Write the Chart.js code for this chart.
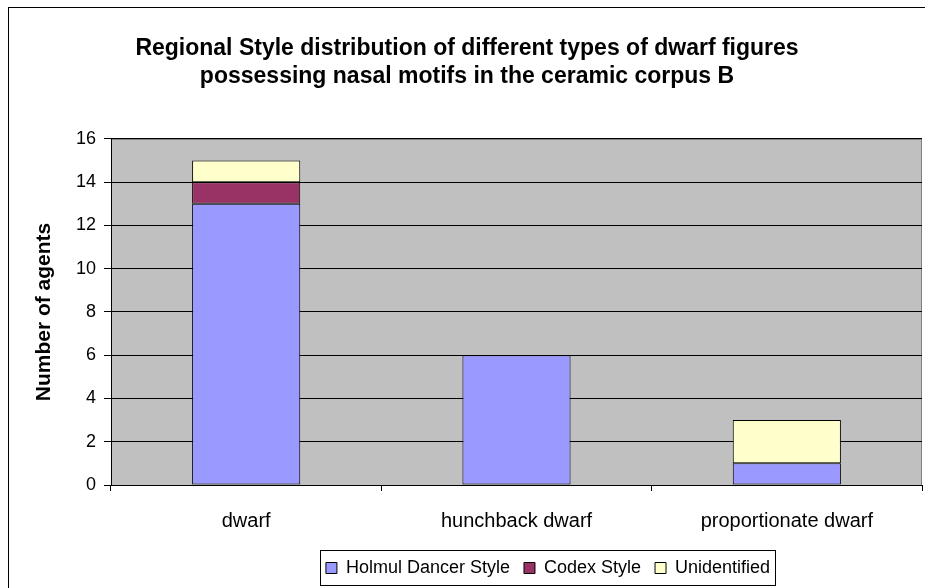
<!DOCTYPE html>
<html>
<head>
<meta charset="utf-8">
<script src="https://cdn.jsdelivr.net/npm/chart.js@4"></script>
<style>
  body { margin: 0; background: #fff; }
  #wrap { width: 925px; height: 588px; }
</style>
</head>
<body>
<div id="wrap"><canvas id="c" width="925" height="588"></canvas></div>
<script>
const categories = ['dwarf', 'hunchback dwarf', 'proportionate dwarf'];
const holmul = [13, 6, 1];
const codex = [1, 0, 0];
const unidentified = [1, 0, 2];
const yTicks = [0, 2, 4, 6, 8, 10, 12, 14, 16];

const font = 'Arial, "Liberation Sans", sans-serif';
const legendShift = 81;

// outer chart border, plot area fill and legend frame, Excel style
const excelFrame = {
	id: 'excelFrame',
	afterLayout(chart) {
		// Excel puts the legend under the plot area, not the whole chart
		chart.legend.left += legendShift;
		chart.legend.right += legendShift;
	},
	beforeDraw(chart) {
		const ctx = chart.ctx;
		const a = chart.chartArea;
		ctx.save();
		ctx.fillStyle = '#fff';
		ctx.fillRect(0, 0, chart.width, chart.height);
		ctx.strokeStyle = '#000';
		ctx.lineWidth = 1;
		ctx.strokeRect(8.5, 7.5, 930, 600);
		ctx.fillStyle = '#c0c0c0';
		ctx.fillRect(a.left, a.top, a.right - a.left, a.bottom - a.top);
		ctx.strokeStyle = '#808080';
		ctx.strokeRect(a.left + 0.5, a.top + 0.5, a.right - a.left - 1, a.bottom - a.top);
		ctx.restore();
	},
	afterDraw(chart) {
		const boxes = chart.legend.legendHitBoxes;
		if (!boxes || !boxes.length) return;
		const first = boxes[0];
		const last = boxes[boxes.length - 1];
		const ctx = chart.ctx;
		ctx.save();
		ctx.strokeStyle = '#000';
		ctx.lineWidth = 1;
		const x0 = Math.round(first.left) - 5.5;
		const x1 = Math.round(last.left + last.width) + 5.5;
		ctx.strokeRect(x0, Math.round(first.top) - 8.5, x1 - x0, first.height + 17);
		ctx.restore();
	}
};

new Chart(document.getElementById('c'), {
	type: 'bar',
	data: {
		labels: categories,
		datasets: [
			{ label: 'Holmul Dancer Style', data: holmul, backgroundColor: '#9999ff' },
			{ label: 'Codex Style', data: codex, backgroundColor: '#993366' },
			{ label: 'Unidentified', data: unidentified, backgroundColor: '#ffffcc' }
		].map(d => Object.assign(d, {
			borderColor: '#000',
			borderWidth: 1,
			borderSkipped: false,
			categoryPercentage: 1,
			barPercentage: 0.4
		}))
	},
	options: {
		responsive: false,
		animation: false,
		layout: { padding: { left: 12, right: 3, top: 0, bottom: 1 } },
		plugins: {
			title: {
				display: true,
				text: ['Regional Style distribution of different types of dwarf figures',
					'possessing nasal motifs in the ceramic corpus B'],
				color: '#000',
				font: { family: font, size: 23, weight: 'bold', lineHeight: 1.217 },
				padding: { top: 35, bottom: 48 }
			},
			legend: {
				position: 'bottom',
				labels: {
					color: '#000',
					font: { family: font, size: 18 },
					boxWidth: 11,
					boxHeight: 11,
					padding: 14,
					useBorderRadius: false
				}
			},
			tooltip: { enabled: false }
		},
		scales: {
			x: {
				stacked: true,
				border: { color: '#000' },
				grid: { offset: true, drawOnChartArea: false, color: '#000', tickLength: 6 },
				ticks: { color: '#000', font: { family: font, size: 20 }, padding: 18 },
				afterFit(axis) { axis.height = 60; }
			},
			y: {
				stacked: true,
				min: 0,
				max: 16,
				afterBuildTicks(axis) { axis.ticks = yTicks.map(v => ({ value: v })); },
				border: { color: '#000' },
				grid: { color: '#000', tickLength: 7 },
				ticks: { color: '#000', font: { family: font, size: 18 }, padding: 8 },
				title: {
					display: true,
					text: 'Number of agents',
					color: '#000',
					font: { family: font, size: 21, weight: 'bold' },
					padding: { top: 20, bottom: 0 }
				},
				afterFit(axis) { axis.width = 99; }
			}
		}
	},
	plugins: [excelFrame]
});
</script>
</body>
</html>
